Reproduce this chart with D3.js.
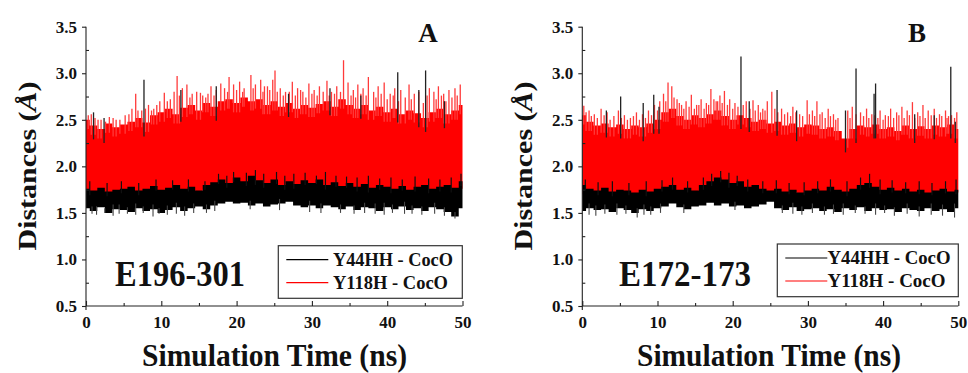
<!DOCTYPE html>
<html>
<head>
<meta charset="utf-8">
<script src="https://cdn.jsdelivr.net/npm/d3@7"></script>
<style>
  body { margin: 0; background: #fff; }
  svg { display: block; }
</style>
</head>
<body>
<svg id="chart" width="968" height="373" font-family="Liberation Serif, Times New Roman, serif" font-weight="bold"></svg>
<script>
// sample times (ns), one per ns
const time = d3.range(0, 51);
const legendLabels = ["Y44HH - CocO", "Y118H - CocO"];
const yTicks = [0.5, 1.0, 1.5, 2.0, 2.5, 3.0, 3.5];
const xTicks = [0, 10, 20, 30, 40, 50];

// ---- panel A : E196-301 ----
const aRedTop = [2.50, 2.44, 2.40, 2.46, 2.42, 2.45, 2.48, 2.52, 2.47, 2.55, 2.58,
  2.62, 2.56, 2.63, 2.66, 2.60, 2.68, 2.64, 2.70, 2.72, 2.68,
  2.74, 2.70, 2.72, 2.66, 2.70, 2.64, 2.68, 2.62, 2.66, 2.63,
  2.67, 2.70, 2.64, 2.72, 2.66, 2.62, 2.66, 2.60, 2.64, 2.58,
  2.62, 2.56, 2.60, 2.57, 2.52, 2.58, 2.62, 2.56, 2.60, 2.66];
const aRedLow = [1.72, 1.70, 1.73, 1.71, 1.72, 1.70, 1.73, 1.71, 1.72, 1.74, 1.71,
  1.73, 1.75, 1.72, 1.74, 1.71, 1.75, 1.77, 1.78, 1.76, 1.79,
  1.78, 1.80, 1.77, 1.76, 1.78, 1.75, 1.77, 1.74, 1.76, 1.75,
  1.77, 1.74, 1.76, 1.73, 1.75, 1.72, 1.74, 1.73, 1.75, 1.72,
  1.71, 1.73, 1.72, 1.74, 1.73, 1.71, 1.73, 1.74, 1.72, 1.76];
const aRedSpikes = [[0.3, 2.55], [0.7, 2.56], [1.2, 2.52], [1.6, 2.50], [2.0, 2.50], [2.6, 2.48],
  [3.1, 2.53], [3.6, 2.52], [4.0, 2.50], [4.5, 2.50], [5.2, 2.55], [5.7, 2.56], [6.1, 2.62],
  [6.6, 2.78], [6.9, 2.60], [7.4, 2.60], [7.9, 2.62], [8.3, 2.66], [8.7, 2.60], [9.0, 2.62],
  [9.4, 2.66], [9.8, 2.70], [10.4, 2.79], [10.8, 2.70], [11.2, 2.72], [11.7, 2.80], [12.1, 2.97],
  [12.4, 2.76], [12.8, 2.84], [13.4, 2.88], [13.8, 2.74], [14.1, 2.78], [14.7, 2.80], [15.2, 2.79],
  [15.5, 2.76], [15.9, 2.74], [16.2, 2.78], [16.6, 2.86], [17.0, 2.76], [17.3, 2.82], [17.9, 2.89],
  [18.4, 2.84], [18.8, 2.80], [19.0, 2.96], [19.6, 2.88], [20.0, 2.82], [20.4, 2.91], [20.8, 2.80],
  [21.0, 2.84], [21.9, 2.98], [22.2, 2.84], [22.5, 2.88], [23.2, 2.93], [23.5, 2.80], [23.7, 2.86],
  [24.1, 2.86], [24.4, 2.82], [24.8, 2.93], [25.1, 3.03], [25.4, 2.80], [25.8, 2.84], [26.2, 2.76],
  [26.5, 2.80], [27.0, 2.80], [27.4, 2.91], [27.8, 2.76], [28.1, 2.84], [28.5, 2.82], [28.8, 2.80],
  [29.2, 2.74], [29.6, 2.89], [30.0, 2.78], [30.3, 2.82], [30.7, 2.76], [31.0, 2.86], [31.5, 2.80],
  [32.0, 2.92], [32.3, 2.76], [32.6, 2.80], [33.0, 2.78], [33.3, 2.86], [33.8, 2.80], [34.2, 3.14],
  [34.8, 2.90], [35.2, 2.76], [35.5, 2.82], [35.8, 2.74], [36.1, 2.88], [36.5, 2.78], [36.8, 2.84],
  [37.2, 2.76], [37.5, 2.96], [38.2, 2.80], [38.5, 2.74], [38.8, 2.86], [39.2, 2.78], [39.6, 2.90],
  [40.0, 2.72], [40.4, 2.78], [40.8, 2.76], [41.0, 2.84], [41.5, 2.70], [41.8, 2.82], [42.4, 2.74],
  [42.9, 2.88], [43.2, 2.72], [43.6, 2.78], [44.2, 2.80], [44.8, 2.68], [45.3, 2.76], [45.6, 2.84],
  [46.2, 2.80], [46.5, 2.72], [46.8, 2.86], [47.2, 2.76], [47.5, 2.78], [47.8, 2.70], [48.2, 2.82],
  [48.6, 2.74], [49.0, 2.84], [49.3, 2.76], [49.7, 2.88]];
const aBlackTop = [1.76, 1.74, 1.77, 1.73, 1.75, 1.76, 1.78, 1.74, 1.76, 1.79, 1.75,
  1.77, 1.80, 1.76, 1.78, 1.74, 1.80, 1.83, 1.86, 1.82, 1.88,
  1.84, 1.90, 1.85, 1.82, 1.86, 1.80, 1.84, 1.81, 1.85, 1.82,
  1.86, 1.80, 1.83, 1.79, 1.82, 1.78, 1.81, 1.77, 1.80, 1.78,
  1.76, 1.79, 1.75, 1.78, 1.80, 1.76, 1.78, 1.80, 1.77, 1.84];
const aBlackLow = [1.55, 1.52, 1.56, 1.50, 1.54, 1.53, 1.51, 1.55, 1.52, 1.54, 1.50,
  1.53, 1.56, 1.52, 1.55, 1.57, 1.54, 1.58, 1.60, 1.62, 1.60,
  1.61, 1.58, 1.60, 1.57, 1.59, 1.60, 1.62, 1.58, 1.56, 1.58,
  1.55, 1.58, 1.56, 1.54, 1.57, 1.53, 1.56, 1.55, 1.52, 1.56,
  1.54, 1.57, 1.53, 1.55, 1.52, 1.56, 1.54, 1.51, 1.46, 1.55];
const aBlackSpikes = [[1.0, 2.58], [2.4, 2.52], [7.7, 2.93], [12.6, 2.82], [17.3, 2.86], [26.9, 2.78],
  [32.4, 2.84], [36.5, 2.76], [41.4, 3.01], [44.2, 2.82], [45.1, 3.03], [47.6, 2.70]];
const aBlackRises = [[0.5, 1.84], [2.8, 1.82], [4.7, 1.84], [7.0, 1.82], [9.3, 1.86], [11.5, 1.85],
  [13.6, 1.86], [15.8, 1.84], [17.6, 1.92], [18.7, 1.90], [19.6, 1.94], [21.3, 1.93], [22.5, 1.96],
  [23.6, 1.92], [25.3, 1.94], [26.4, 1.90], [27.6, 1.92], [29.1, 1.93], [30.6, 1.90], [31.8, 1.94],
  [33.2, 1.90], [34.6, 1.89], [36.0, 1.88], [37.5, 1.90], [39.0, 1.87], [40.5, 1.88], [42.0, 1.86],
  [43.7, 1.89], [45.5, 1.87], [47.0, 1.86], [48.5, 1.88], [49.8, 1.92]];
const aBlackDips = [[0.8, 1.49], [1.4, 1.48], [2.5, 1.50], [3.6, 1.47], [4.4, 1.49], [5.5, 1.49],
  [6.6, 1.48], [7.6, 1.50], [8.9, 1.46], [9.7, 1.49], [10.8, 1.48], [12.0, 1.49], [13.1, 1.47],
  [14.3, 1.50], [16.0, 1.50], [17.1, 1.52], [21.8, 1.54], [25.7, 1.53], [29.7, 1.51], [31.2, 1.50],
  [33.8, 1.50], [35.6, 1.49], [37.0, 1.50], [38.4, 1.49], [39.6, 1.48], [40.7, 1.50], [42.3, 1.49],
  [43.3, 1.49], [44.6, 1.48], [46.3, 1.49], [47.6, 1.47], [49.0, 1.44]];

// ---- panel B : E172-173 ----
const bRedTop = [2.55, 2.48, 2.44, 2.46, 2.42, 2.45, 2.40, 2.44, 2.42, 2.46, 2.50,
  2.58, 2.62, 2.54, 2.50, 2.55, 2.52, 2.56, 2.60, 2.54, 2.50,
  2.55, 2.52, 2.48, 2.50, 2.46, 2.48, 2.44, 2.46, 2.42, 2.45,
  2.44, 2.40, 2.42, 2.38, 2.30, 2.40, 2.44, 2.42, 2.45, 2.40,
  2.42, 2.38, 2.44, 2.40, 2.43, 2.40, 2.44, 2.42, 2.45, 2.40];
const bRedLow = [1.70, 1.72, 1.69, 1.71, 1.70, 1.72, 1.69, 1.71, 1.70, 1.72, 1.71,
  1.73, 1.74, 1.72, 1.73, 1.71, 1.74, 1.76, 1.78, 1.77, 1.75,
  1.74, 1.72, 1.73, 1.70, 1.66, 1.71, 1.70, 1.72, 1.69, 1.71,
  1.72, 1.70, 1.73, 1.71, 1.70, 1.72, 1.74, 1.75, 1.73, 1.71,
  1.72, 1.70, 1.71, 1.69, 1.71, 1.70, 1.72, 1.71, 1.70, 1.72];
const bRedSpikes = [[0.2, 2.65], [0.5, 2.58], [0.9, 2.60], [1.2, 2.54], [1.6, 2.56], [2.0, 2.52],
  [2.5, 2.62], [2.9, 2.55], [3.3, 2.58], [3.7, 2.50], [4.2, 2.54], [4.8, 2.60], [5.2, 2.52],
  [5.6, 2.55], [6.0, 2.50], [6.4, 2.52], [6.8, 2.54], [7.2, 2.58], [7.6, 2.50], [8.0, 2.56],
  [8.4, 2.52], [8.8, 2.60], [9.2, 2.55], [9.6, 2.66], [10.0, 2.60], [10.3, 2.70], [10.8, 2.78],
  [11.1, 2.70], [11.4, 2.90], [11.9, 2.86], [12.2, 2.74], [12.6, 2.72], [12.9, 2.68], [13.2, 2.66],
  [13.5, 2.62], [13.8, 2.70], [14.2, 2.64], [14.5, 2.77], [14.9, 2.62], [15.2, 2.66], [15.5, 2.66],
  [15.8, 2.72], [16.2, 2.62], [16.5, 2.68], [16.8, 2.66], [17.1, 2.83], [17.5, 2.72], [17.8, 2.70],
  [18.0, 2.70], [18.3, 2.76], [18.6, 2.68], [18.9, 2.81], [19.3, 2.66], [19.6, 2.72], [20.0, 2.62],
  [20.3, 2.68], [20.7, 2.64], [21.4, 2.66], [21.8, 2.70], [22.3, 2.62], [22.7, 2.71], [23.0, 2.60],
  [23.4, 2.66], [23.7, 2.58], [24.0, 2.62], [24.3, 2.60], [24.6, 2.70], [25.2, 2.80], [25.6, 2.62],
  [26.0, 2.58], [26.5, 2.62], [26.9, 2.56], [27.3, 2.58], [27.7, 2.54], [28.0, 2.64], [28.4, 2.58],
  [28.9, 2.56], [29.3, 2.54], [29.9, 2.71], [30.2, 2.56], [30.6, 2.60], [30.9, 2.54], [31.2, 2.70],
  [31.6, 2.56], [31.9, 2.58], [32.3, 2.52], [32.7, 2.62], [33.0, 2.54], [33.4, 2.56], [33.7, 2.50],
  [34.0, 2.52], [35.3, 2.60], [35.6, 2.52], [35.9, 2.64], [36.4, 2.56], [37.0, 2.58], [37.4, 2.54],
  [37.8, 2.62], [38.1, 2.52], [38.5, 2.56], [38.9, 2.55], [39.3, 2.52], [39.6, 2.60], [40.0, 2.50],
  [40.3, 2.55], [40.7, 2.54], [41.0, 2.62], [41.4, 2.52], [41.8, 2.58], [42.1, 2.55], [42.5, 2.64],
  [42.8, 2.52], [43.2, 2.60], [43.5, 2.55], [43.9, 2.69], [44.2, 2.52], [44.6, 2.58], [44.9, 2.54],
  [45.3, 2.66], [45.6, 2.52], [46.0, 2.60], [46.4, 2.55], [46.8, 2.62], [47.1, 2.52], [47.5, 2.56],
  [47.8, 2.54], [48.3, 2.60], [48.5, 2.52], [48.7, 2.54], [49.1, 2.55], [49.5, 2.52], [49.8, 2.58]];
const bBlackTop = [1.80, 1.76, 1.74, 1.77, 1.73, 1.75, 1.74, 1.72, 1.75, 1.73, 1.76,
  1.78, 1.80, 1.75, 1.77, 1.74, 1.80, 1.84, 1.88, 1.86, 1.82,
  1.84, 1.78, 1.80, 1.76, 1.74, 1.76, 1.73, 1.75, 1.72, 1.74,
  1.76, 1.74, 1.78, 1.75, 1.73, 1.76, 1.80, 1.82, 1.78, 1.75,
  1.77, 1.74, 1.76, 1.73, 1.75, 1.72, 1.74, 1.76, 1.73, 1.75];
const bBlackLow = [1.52, 1.55, 1.53, 1.54, 1.51, 1.55, 1.53, 1.50, 1.54, 1.52, 1.55,
  1.57, 1.60, 1.56, 1.54, 1.57, 1.58, 1.61, 1.58, 1.60, 1.57,
  1.58, 1.55, 1.57, 1.59, 1.62, 1.55, 1.53, 1.56, 1.52, 1.54,
  1.55, 1.52, 1.54, 1.51, 1.55, 1.53, 1.56, 1.52, 1.55, 1.53,
  1.54, 1.51, 1.55, 1.53, 1.52, 1.55, 1.52, 1.54, 1.51, 1.55];
const bBlackSpikes = [[3.2, 2.60], [5.1, 2.75], [8.1, 2.68], [9.5, 2.77], [10.2, 2.64], [21.1, 3.18],
  [22.2, 2.70], [25.9, 2.82], [28.5, 2.60], [35.0, 2.60], [36.4, 3.05], [38.8, 2.78], [39.0, 2.89],
  [44.2, 2.56], [46.8, 2.55], [49.0, 3.07], [49.6, 2.48]];
const bBlackRises = [[0.4, 1.86], [2.1, 1.83], [4.0, 1.84], [6.2, 1.82], [8.5, 1.84], [10.6, 1.85],
  [12.0, 1.88], [14.0, 1.84], [16.1, 1.88], [17.2, 1.92], [18.4, 1.95], [19.5, 1.93], [20.6, 1.90],
  [22.0, 1.86], [24.0, 1.84], [25.8, 1.85], [27.5, 1.82], [29.5, 1.83], [31.3, 1.84], [33.0, 1.86],
  [35.2, 1.84], [37.0, 1.88], [38.2, 1.92], [39.6, 1.86], [41.2, 1.85], [43.0, 1.83], [44.8, 1.84],
  [46.5, 1.82], [48.3, 1.84], [49.7, 1.86]];
const bBlackDips = [[0.9, 1.48], [1.8, 1.47], [3.0, 1.49], [4.6, 1.48], [5.8, 1.49], [7.3, 1.45],
  [8.2, 1.48], [9.1, 1.48], [10.4, 1.50], [13.5, 1.50], [20.3, 1.53], [26.6, 1.50], [28.0, 1.49],
  [29.2, 1.48], [30.6, 1.50], [32.2, 1.48], [33.4, 1.49], [34.7, 1.48], [36.3, 1.50], [37.6, 1.49],
  [39.0, 1.48], [40.2, 1.50], [41.5, 1.47], [43.2, 1.49], [44.8, 1.46], [46.4, 1.48], [47.9, 1.47],
  [49.5, 1.45]];

const panels = [
  { letter: "A", name: "E196-301", left: 86, right: 462.5,
    redTop: aRedTop, redLow: aRedLow, redSpikes: aRedSpikes,
    blackTop: aBlackTop, blackLow: aBlackLow, blackSpikes: aBlackSpikes,
    blackRises: aBlackRises, blackDips: aBlackDips,
    title: { x: 142, w: 265 }, nameBox: { x: 115, w: 130 }, letterX: 428,
    legend: { x: 278.3, y: 245.7, w: 184, h: 52.6, tx: 333, tw: [120, 115] } },
  { letter: "B", name: "E172-173", left: 582.3, right: 958.3,
    redTop: bRedTop, redLow: bRedLow, redSpikes: bRedSpikes,
    blackTop: bBlackTop, blackLow: bBlackLow, blackSpikes: bBlackSpikes,
    blackRises: bBlackRises, blackDips: bBlackDips,
    title: { x: 637, w: 264 }, nameBox: { x: 619, w: 132 }, letterX: 917,
    legend: { x: 777.3, y: 244, w: 181, h: 52.7, tx: 827.5, tw: [123, 118] } }
];

const svg = d3.select("#chart");
const yTop = 26.7, yBottom = 306;
const FONT = "Liberation Serif, Times New Roman, serif";

function drawPanel(p) {
  const x = d3.scaleLinear().domain([0, 50]).range([p.left, p.right]);
  const y = d3.scaleLinear().domain([0.5, 3.5]).range([yBottom, yTop]);
  const g = svg.append("g");
  const band = (lo, hi) => d3.area()
    .curve(d3.curveStep)
    .x((d, i) => x(time[i]))
    .y0((d, i) => y(lo[i]))
    .y1((d, i) => y(hi[i]));
  const at = (arr, t) => arr[Math.round(t)];
  const vlines = (data, base, color, width) => g.append("g").selectAll("line")
    .data(data)
    .join("line")
    .attr("x1", d => x(d[0])).attr("x2", d => x(d[0]))
    .attr("y1", d => y(d[1])).attr("y2", d => y(base(d[0])))
    .attr("stroke", color).attr("stroke-width", width);

  // red trace (Y118H)
  g.append("path").datum(time).attr("d", band(p.redLow, p.redTop)).attr("fill", "#ff0000");
  vlines(p.redSpikes, t => at(p.redTop, t) - 0.1, "#ff3a3a", 1.3);

  // black trace (Y44HH)
  g.append("path").datum(time).attr("d", band(p.blackLow, p.blackTop)).attr("fill", "#000");
  vlines(p.blackRises, t => at(p.blackTop, t) - 0.05, "#111", 1.2);
  vlines(p.blackDips, t => at(p.blackLow, t) + 0.05, "#444", 1.1);
  vlines(p.blackSpikes, t => at(p.redTop, t) - 0.15, "#222", 1.3);

  // axes
  const yAxis = g.append("g").attr("transform", `translate(${p.left},0)`)
    .call(d3.axisLeft(y).tickValues(yTicks).tickSize(4).tickPadding(5).tickFormat(d3.format(".1f")));
  g.append("g").attr("transform", `translate(${p.left},0)`)
    .call(d3.axisRight(y).tickValues(d3.range(0.75, 3.5, 0.5)).tickSize(3).tickFormat(""))
    .call(a => a.select(".domain").remove());
  const xAxis = g.append("g").attr("transform", `translate(0,${yBottom})`)
    .call(d3.axisBottom(x).tickValues(xTicks).tickSize(-5).tickPadding(10).tickFormat(d3.format("d")));
  g.append("g").attr("transform", `translate(0,${yBottom})`)
    .call(d3.axisBottom(x).tickValues(d3.range(5, 50, 10)).tickSize(-3).tickFormat(""))
    .call(a => a.select(".domain").remove());
  g.selectAll(".domain, .tick line").attr("stroke", "#222").attr("stroke-width", 1.1);
  [yAxis, xAxis].forEach(ax => {
    ax.attr("font-family", FONT).attr("font-size", 17).attr("font-weight", "bold");
    ax.selectAll("text").attr("fill", "#111");
  });
  yAxis.select(".domain").attr("d", `M0,${yTop}V${yBottom + 4}`);
  xAxis.select(".domain").attr("d", `M${p.left},0H${p.right}`);

  // titles (the figure is slightly condensed horizontally)
  g.append("text")
    .attr("transform", `translate(${p.left - 50},166) scale(0.87,1) rotate(-90)`)
    .attr("text-anchor", "middle").attr("font-size", 30).attr("fill", "#111")
    .call(t => t.append("tspan").text("Distances ("))
    .call(t => t.append("tspan").attr("font-style", "italic").text("Å"))
    .call(t => t.append("tspan").text(")"));
  g.append("text").attr("x", p.title.x).attr("y", 366)
    .attr("font-size", 32).attr("fill", "#111")
    .attr("textLength", p.title.w).attr("lengthAdjust", "spacingAndGlyphs")
    .text("Simulation Time (ns)");
  g.append("text").attr("x", p.letterX).attr("y", 42)
    .attr("text-anchor", "middle").attr("font-size", 27).attr("fill", "#111")
    .text(p.letter);
  g.append("text").attr("x", p.nameBox.x).attr("y", 286)
    .attr("font-size", 35).attr("fill", "#111")
    .attr("textLength", p.nameBox.w).attr("lengthAdjust", "spacingAndGlyphs")
    .text(p.name);

  // legend
  const L = p.legend;
  const lg = g.append("g");
  lg.append("rect").attr("x", L.x).attr("y", L.y).attr("width", L.w).attr("height", L.h)
    .attr("fill", "#fff").attr("stroke", "#333").attr("stroke-width", 1.2);
  lg.selectAll("g.item")
    .data(legendLabels)
    .join("g")
    .attr("class", "item")
    .attr("transform", (d, i) => `translate(${L.x + 8},${L.y + 14 + i * 23})`)
    .call(s => s.append("line").attr("x1", 0).attr("x2", 42)
      .attr("stroke", (d, i) => i === 0 ? "#000" : "#ff0000").attr("stroke-width", 1.2))
    .call(s => s.append("text").attr("x", L.tx - L.x - 8).attr("y", 6)
      .attr("font-size", 18).attr("fill", "#111")
      .attr("textLength", (d, i) => L.tw[i]).attr("lengthAdjust", "spacingAndGlyphs")
      .text(d => d));
}

panels.forEach(drawPanel);
</script>
</body>
</html>
